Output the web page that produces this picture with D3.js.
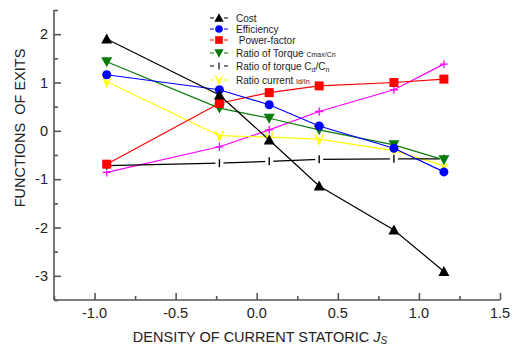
<!DOCTYPE html>
<html>
<head>
<meta charset="utf-8">
<script src="https://cdn.jsdelivr.net/npm/d3@7"></script>
<style>
  body { margin: 0; background: #fff; }
  text { font-family: "Liberation Sans", Arial, sans-serif; }
</style>
</head>
<body>
<div id="chart"></div>
<script>
// x positions shared by all series
const xValues = [-0.925, -0.23, 0.077, 0.385, 0.846, 1.154];

const cost = [1.90, 0.74, -0.19, -1.14, -2.05, -2.91];
const efficiency = [1.16, 0.85, 0.54, 0.10, -0.36, -0.85];
const powerFactor = [-0.69, 0.57, 0.79, 0.93, 1.00, 1.07];
const torqueMax = [1.43, 0.47, 0.26, 0.02, -0.29, -0.60];
const torqueStart = [-0.72, -0.67, -0.63, -0.59, -0.58, -0.58];
const currentRatio = [1.02, -0.10, -0.13, -0.17, -0.41, -0.72];
const extra = [-0.86, -0.33, 0.02, 0.40, 0.85, 1.38];

const xTicks = [-1.0, -0.5, 0.0, 0.5, 1.0, 1.5];
const yTicks = [-3, -2, -1, 0, 1, 2];

const series = [
  { name: 'extra', values: extra, color: '#ff00ff', marker: 'plus' },
  { name: 'Ratio current', values: currentRatio, color: '#ffff00', marker: 'vee' },
  { name: 'Ratio of torque Cd/Cn', values: torqueStart, color: '#000000', marker: 'bar' },
  { name: 'Ratio of Torque', values: torqueMax, color: '#0a7a0a', marker: 'tridown' },
  { name: 'Power-factor', values: powerFactor, color: '#ff0000', marker: 'square' },
  { name: 'Efficiency', values: efficiency, color: '#0000ff', marker: 'circle' },
  { name: 'Cost', values: cost, color: '#000000', marker: 'triup' }
];

const width = 512, height = 349;
const margin = { left: 54, right: 12, top: 10, bottom: 49 };

const svg = d3.select('#chart').append('svg')
  .attr('width', width)
  .attr('height', height);

const x = d3.scaleLinear().domain([-1.25, 1.5]).range([margin.left, width - margin.right]);
const y = d3.scaleLinear().domain([-3.5, 2.5]).range([height - margin.bottom, margin.top]);

function drawMarker(g, type, color) {
  if (type === 'triup') {
    g.append('path').attr('d', 'M0,-5.5L5.5,4.5L-5.5,4.5Z').attr('fill', color);
  } else if (type === 'tridown') {
    g.append('path').attr('d', 'M0,5.5L5.5,-4.5L-5.5,-4.5Z').attr('fill', color);
  } else if (type === 'circle') {
    g.append('circle').attr('r', 4.5).attr('fill', color);
  } else if (type === 'square') {
    g.append('rect').attr('x', -4.5).attr('y', -4.5).attr('width', 9).attr('height', 9).attr('fill', color);
  } else if (type === 'plus') {
    g.append('path').attr('d', 'M-4,0H4M0,-4V4').attr('stroke', color).attr('stroke-width', 1.3);
  } else if (type === 'vee') {
    g.append('path').attr('d', 'M-4,-5L0,5L4,-5M0,-2V5').attr('stroke', color)
      .attr('stroke-width', 1.4).attr('fill', 'none');
  } else if (type === 'bar') {
    g.append('rect').attr('x', -4).attr('y', -5).attr('width', 8).attr('height', 10).attr('fill', '#fff');
    g.append('path').attr('d', 'M0,-4V4').attr('stroke', color).attr('stroke-width', 1.4);
  }
}

// lines + markers
const line = d3.line().x((d, i) => x(xValues[i])).y(d => y(d));
series.forEach(s => {
  svg.append('path')
    .datum(s.values)
    .attr('d', line)
    .attr('fill', 'none')
    .attr('stroke', s.color)
    .attr('stroke-width', 1.2);
});
series.forEach(s => {
  s.values.forEach((v, i) => {
    const g = svg.append('g').attr('transform', `translate(${x(xValues[i])},${y(v)})`);
    drawMarker(g, s.marker, s.color);
  });
});

// axes (ticks pointing inward)
const axisColor = '#555';
const xAxis = svg.append('g').attr('transform', `translate(0,${height - margin.bottom})`)
  .call(d3.axisTop(x).tickValues(d3.range(-1.25, 1.51, 0.25)).tickSize(5).tickFormat(''));
xAxis.selectAll('.tick line').attr('y2', d => Math.abs(d * 4 % 2) < 0.01 ? -7 : -4);
xAxis.select('.domain').attr('d', `M${margin.left},0H${width - margin.right}`);

const yAxis = svg.append('g').attr('transform', `translate(${margin.left},0)`)
  .call(d3.axisRight(y).tickValues(d3.range(-3.5, 2.51, 0.5)).tickSize(5).tickFormat(''));
yAxis.selectAll('.tick line').attr('x2', d => Math.abs(d % 1) < 0.01 ? 7 : 4);
yAxis.select('.domain').attr('d', `M0,${margin.top}V${height - margin.bottom}`);

svg.selectAll('.domain, .tick line').attr('stroke', axisColor).attr('stroke-width', 1.6);

const hyphen = s => s.replace('\u2212', '-');

svg.append('g').selectAll('text').data(xTicks).join('text')
  .attr('x', d => x(d)).attr('y', 318)
  .attr('text-anchor', 'middle').attr('font-size', 14.5).attr('fill', '#222')
  .text(d => hyphen(d3.format('.1f')(d)));

svg.append('g').selectAll('text').data(yTicks).join('text')
  .attr('x', 48).attr('y', d => y(d) + 5)
  .attr('text-anchor', 'end').attr('font-size', 14.5).attr('fill', '#222')
  .text(d => hyphen(String(d)));

// axis titles
const xt = svg.append('text').attr('x', 260).attr('y', 342)
  .attr('text-anchor', 'middle').attr('font-size', 14.5).attr('fill', '#222');
xt.append('tspan').text('DENSITY OF CURRENT STATORIC ');
xt.append('tspan').attr('font-style', 'italic').text('J');
xt.append('tspan').attr('font-style', 'italic').attr('font-size', 10).attr('dy', 2).text('S');

svg.append('text')
  .attr('transform', 'translate(25,128) rotate(-90)')
  .attr('text-anchor', 'middle').attr('font-size', 14.5).attr('fill', '#222')
  .attr('xml:space', 'preserve')
  .text('FUNCTIONS  OF EXITS');

// legend
const legendItems = [
  { color: '#000000', marker: 'triup', parts: [['Cost']] },
  { color: '#0000ff', marker: 'circle', parts: [['Efficiency']] },
  { color: '#ff0000', marker: 'square', parts: [[' Power-factor']] },
  { color: '#0a7a0a', marker: 'tridown', parts: [['Ratio of Torque '], ['Cmax/Cn', 'small']] },
  { color: '#000000', marker: 'bar', parts: [['Ratio of torque C'], ['d', 'sub'], ['/C'], ['n', 'sub']] },
  { color: '#ffff00', marker: 'vee', parts: [['Ratio current '], ['Id/In', 'small']] }
];
const legendY = [18, 29, 40, 53, 66, 80];

legendItems.forEach((item, i) => {
  const ly = legendY[i];
  const g = svg.append('g').attr('transform', `translate(219,${ly})`);
  g.append('path').attr('d', 'M-9,0H-5M5,0H9').attr('stroke', item.color).attr('stroke-width', 1.2);
  const mg = g.append('g').attr('transform', 'scale(0.85)');
  drawMarker(mg, item.marker, item.color);
  const t = svg.append('text').attr('x', 236).attr('y', ly + 4).attr('font-size', 10).attr('fill', '#222')
    .attr('xml:space', 'preserve');
  item.parts.forEach(p => {
    const ts = t.append('tspan').text(p[0]);
    if (p[1] === 'small') ts.attr('font-size', 7);
    if (p[1] === 'sub') ts.attr('font-size', 7).attr('dy', 2);
    else if (p[0] === '/C') ts.attr('dy', -2);
  });
});
</script>
</body>
</html>
